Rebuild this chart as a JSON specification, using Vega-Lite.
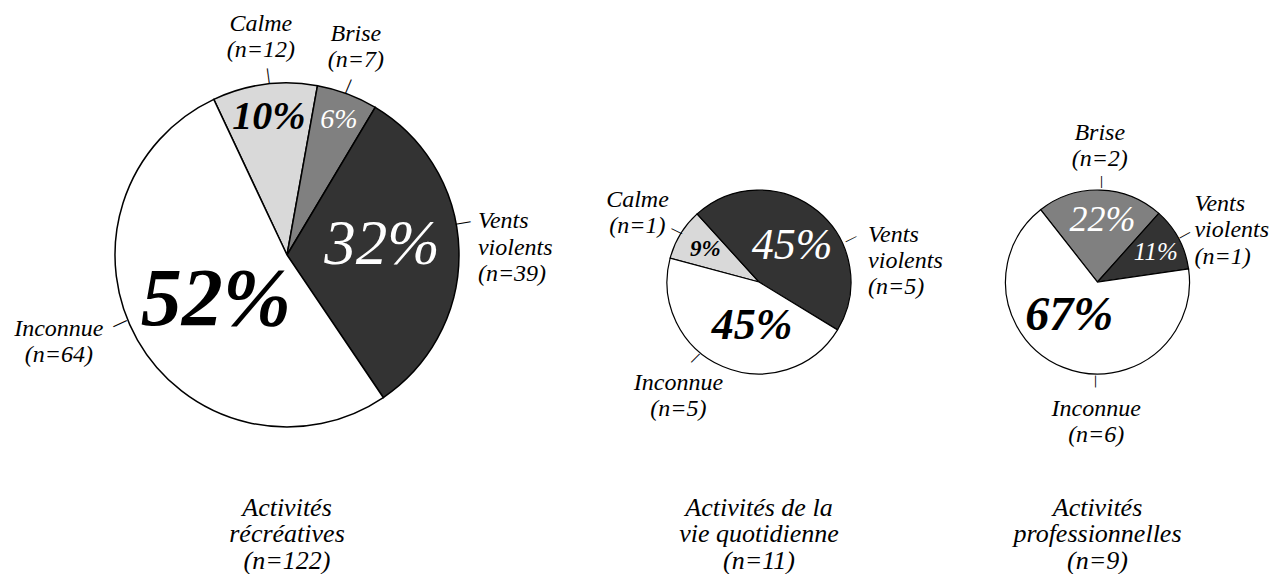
{
  "$schema": "https://vega.github.io/schema/vega-lite/v6.json",
  "padding": 0,
  "spacing": 0,
  "bounds": "flush",
  "background": "white",
  "config": {"view": {"stroke": null}, "font": "Liberation Serif"},
  "resolve": {"scale": {"theta": "independent", "color": "independent"}},
  "hconcat": [
    {
      "width": 574,
      "height": 510,
      "title": {"text": ["Activit\u00e9s", "r\u00e9cr\u00e9atives", "(n=122)"], "offset": -15.5, "font": "Liberation Serif", "fontStyle": "italic", "fontWeight": "normal", "fontSize": 26, "lineHeight": 26.5, "color": "black", "orient": "bottom", "frame": "group", "anchor": "middle", "baseline": "top"},
      "data": {"values": [
        {"cat": "Calme", "n": 12, "ord": 1, "pct": "10%", "label": "Calme\n(n=12)"},
        {"cat": "Brise", "n": 7, "ord": 2, "pct": "6%", "label": "Brise\n(n=7)"},
        {"cat": "Vents violents", "n": 39, "ord": 3, "pct": "32%", "label": "Vents\nviolents\n(n=39)"},
        {"cat": "Inconnue", "n": 64, "ord": 4, "pct": "52%", "label": "Inconnue\n(n=64)"}
      ]},
      "encoding": {
        "theta": {"field": "n", "type": "quantitative", "stack": true, "scale": {"range": [-0.4398, 5.8434]}},
        "order": {"field": "ord", "type": "quantitative"},
        "detail": {"field": "cat", "type": "nominal"}
      },
      "layer": [
        {"mark": {"type": "arc", "outerRadius": 172, "stroke": "black", "strokeWidth": 1.5},
         "encoding": {"color": {"field": "cat", "type": "nominal", "legend": null, "scale": {"domain": ["Calme", "Brise", "Vents violents", "Inconnue"], "range": ["#d9d9d9", "#808080", "#333333", "#ffffff"]}}}},
        {"mark": {"type": "text", "align": "center", "baseline": "middle", "font": "Liberation Serif", "fontStyle": "italic", "radius": 139, "fontSize": 40, "fontWeight": "bold", "color": "black"},
         "encoding": {"text": {"field": "pct"}, "opacity": {"condition": {"test": "datum.cat === 'Calme'", "value": 1}, "value": 0}}},
        {"mark": {"type": "text", "align": "center", "baseline": "middle", "font": "Liberation Serif", "fontStyle": "italic", "radius": 144, "fontSize": 28, "color": "white", "dx": 1.5},
         "encoding": {"text": {"field": "pct"}, "opacity": {"condition": {"test": "datum.cat === 'Brise'", "value": 1}, "value": 0}}},
        {"mark": {"type": "text", "align": "center", "baseline": "middle", "font": "Liberation Serif", "fontStyle": "italic", "radius": 95, "fontSize": 63, "color": "white", "dy": -7.5},
         "encoding": {"text": {"field": "pct"}, "opacity": {"condition": {"test": "datum.cat === 'Vents violents'", "value": 1}, "value": 0}}},
        {"mark": {"type": "text", "align": "center", "baseline": "middle", "font": "Liberation Serif", "fontStyle": "italic", "radius": 84, "fontSize": 82, "fontWeight": "bold", "color": "black", "dx": 2, "dy": 3.6},
         "encoding": {"text": {"field": "pct"}, "opacity": {"condition": {"test": "datum.cat === 'Inconnue'", "value": 1}, "value": 0}}},
        {"mark": {"type": "text", "align": "center", "baseline": "middle", "lineBreak": "\n", "color": "black", "font": "Liberation Serif", "fontStyle": "italic", "radius": 220, "fontSize": 24, "lineHeight": 26, "dx": 2.5, "dy": -13},
         "encoding": {"text": {"field": "label"}, "opacity": {"condition": {"test": "datum.cat === 'Calme'", "value": 1}, "value": 0}}},
        {"mark": {"type": "text", "align": "center", "baseline": "middle", "lineBreak": "\n", "color": "black", "font": "Liberation Serif", "fontStyle": "italic", "radius": 222, "fontSize": 24, "lineHeight": 26, "dx": -9, "dy": -13},
         "encoding": {"text": {"field": "label"}, "opacity": {"condition": {"test": "datum.cat === 'Brise'", "value": 1}, "value": 0}}},
        {"mark": {"type": "text", "align": "left", "baseline": "middle", "lineBreak": "\n", "color": "black", "font": "Liberation Serif", "fontStyle": "italic", "radius": 191, "fontSize": 24, "lineHeight": 26.5, "dy": -28.5},
         "encoding": {"text": {"field": "label"}, "opacity": {"condition": {"test": "datum.cat === 'Vents violents'", "value": 1}, "value": 0}}},
        {"mark": {"type": "text", "align": "center", "baseline": "middle", "lineBreak": "\n", "color": "black", "font": "Liberation Serif", "fontStyle": "italic", "radius": 190, "fontSize": 24, "lineHeight": 26, "dx": -63, "dy": -20},
         "encoding": {"text": {"field": "label"}, "opacity": {"condition": {"test": "datum.cat === 'Inconnue'", "value": 1}, "value": 0}}},
        {"mark": {"type": "text", "align": "center", "baseline": "middle", "color": "black", "radius": 180, "fontSize": 15, "font": "Liberation Sans", "fontStyle": "normal", "angle": -97.6, "dy": 3.5},
         "encoding": {"text": {"value": "\u2014"}, "opacity": {"condition": {"test": "datum.cat === 'Calme'", "value": 1}, "value": 0}}},
        {"mark": {"type": "text", "align": "center", "baseline": "middle", "color": "black", "radius": 179.4, "fontSize": 15, "font": "Liberation Sans", "fontStyle": "normal", "angle": -67.2, "dy": -2.9},
         "encoding": {"text": {"value": "\u2014"}, "opacity": {"condition": {"test": "datum.cat === 'Brise'", "value": 1}, "value": 0}}},
        {"mark": {"type": "text", "align": "center", "baseline": "middle", "color": "black", "radius": 177, "fontSize": 15, "font": "Liberation Sans", "fontStyle": "normal", "angle": -10, "dx": 4.1, "dy": -28.1},
         "encoding": {"text": {"value": "\u2014"}, "opacity": {"condition": {"test": "datum.cat === 'Vents violents'", "value": 1}, "value": 0}}},
        {"mark": {"type": "text", "align": "center", "baseline": "middle", "color": "black", "radius": 179, "fontSize": 15, "font": "Liberation Sans", "fontStyle": "normal", "angle": 154.8, "dx": 1.8, "dy": 21.6},
         "encoding": {"text": {"value": "\u2014"}, "opacity": {"condition": {"test": "datum.cat === 'Inconnue'", "value": 1}, "value": 0}}}
      ]
    },
    {
      "width": 370,
      "height": 564,
      "title": {"text": ["Activit\u00e9s de la", "vie quotidienne", "(n=11)"], "offset": -69.5, "font": "Liberation Serif", "fontStyle": "italic", "fontWeight": "normal", "fontSize": 26, "lineHeight": 26.5, "color": "black", "orient": "bottom", "frame": "group", "anchor": "middle", "baseline": "top"},
      "data": {"values": [
        {"cat": "Calme", "n": 1, "ord": 1, "pct": "9%", "label": "Calme\n(n=1)"},
        {"cat": "Vents violents", "n": 5, "ord": 3, "pct": "45%", "label": "Vents\nviolents\n(n=5)"},
        {"cat": "Inconnue", "n": 5, "ord": 4, "pct": "45%", "label": "Inconnue\n(n=5)"}
      ]},
      "encoding": {
        "theta": {"field": "n", "type": "quantitative", "stack": true, "scale": {"range": [-1.309, 4.9742]}},
        "order": {"field": "ord", "type": "quantitative"},
        "detail": {"field": "cat", "type": "nominal"}
      },
      "layer": [
        {"mark": {"type": "arc", "outerRadius": 92, "stroke": "black", "strokeWidth": 1.2},
         "encoding": {"color": {"field": "cat", "type": "nominal", "legend": null, "scale": {"domain": ["Calme", "Brise", "Vents violents", "Inconnue"], "range": ["#d9d9d9", "#808080", "#333333", "#ffffff"]}}}},
        {"mark": {"type": "text", "align": "center", "baseline": "middle", "font": "Liberation Serif", "fontStyle": "italic", "radius": 63, "fontSize": 23, "fontWeight": "bold", "color": "black"},
         "encoding": {"text": {"field": "pct"}, "opacity": {"condition": {"test": "datum.cat === 'Calme'", "value": 1}, "value": 0}}},
        {"mark": {"type": "text", "align": "center", "baseline": "middle", "font": "Liberation Serif", "fontStyle": "italic", "radius": 49, "fontSize": 44, "color": "white", "dx": 2, "dy": 2},
         "encoding": {"text": {"field": "pct"}, "opacity": {"condition": {"test": "datum.cat === 'Vents violents'", "value": 1}, "value": 0}}},
        {"mark": {"type": "text", "align": "center", "baseline": "middle", "font": "Liberation Serif", "fontStyle": "italic", "radius": 43, "fontSize": 44, "fontWeight": "bold", "color": "black", "dx": 10, "dy": 4},
         "encoding": {"text": {"field": "pct"}, "opacity": {"condition": {"test": "datum.cat === 'Inconnue'", "value": 1}, "value": 0}}},
        {"mark": {"type": "text", "align": "center", "baseline": "middle", "lineBreak": "\n", "color": "black", "font": "Liberation Serif", "fontStyle": "italic", "radius": 140, "fontSize": 24, "lineHeight": 26, "dx": -2, "dy": -9},
         "encoding": {"text": {"field": "label"}, "opacity": {"condition": {"test": "datum.cat === 'Calme'", "value": 1}, "value": 0}}},
        {"mark": {"type": "text", "align": "left", "baseline": "middle", "lineBreak": "\n", "color": "black", "font": "Liberation Serif", "fontStyle": "italic", "radius": 85, "fontSize": 24, "lineHeight": 26, "dx": 55, "dy": 19},
         "encoding": {"text": {"field": "label"}, "opacity": {"condition": {"test": "datum.cat === 'Vents violents'", "value": 1}, "value": 0}}},
        {"mark": {"type": "text", "align": "center", "baseline": "middle", "lineBreak": "\n", "color": "black", "font": "Liberation Serif", "fontStyle": "italic", "radius": 136, "fontSize": 24, "lineHeight": 26, "dx": -27, "dy": -24},
         "encoding": {"text": {"field": "label"}, "opacity": {"condition": {"test": "datum.cat === 'Inconnue'", "value": 1}, "value": 0}}},
        {"mark": {"type": "text", "align": "center", "baseline": "middle", "color": "black", "radius": 96.5, "fontSize": 12, "font": "Liberation Sans", "fontStyle": "normal", "angle": -153.4, "dy": -0.5},
         "encoding": {"text": {"value": "\u2014"}, "opacity": {"condition": {"test": "datum.cat === 'Calme'", "value": 1}, "value": 0}}},
        {"mark": {"type": "text", "align": "center", "baseline": "middle", "color": "black", "radius": 91.7, "fontSize": 12, "font": "Liberation Sans", "fontStyle": "normal", "angle": -26, "dx": 18, "dy": 38.9},
         "encoding": {"text": {"value": "\u2014"}, "opacity": {"condition": {"test": "datum.cat === 'Vents violents'", "value": 1}, "value": 0}}},
        {"mark": {"type": "text", "align": "center", "baseline": "middle", "color": "black", "radius": 95, "fontSize": 12, "font": "Liberation Sans", "fontStyle": "normal", "angle": 135, "dx": 10.5, "dy": 25.5},
         "encoding": {"text": {"value": "\u2014"}, "opacity": {"condition": {"test": "datum.cat === 'Inconnue'", "value": 1}, "value": 0}}}
      ]
    },
    {
      "width": 307,
      "height": 564,
      "title": {"text": ["Activit\u00e9s", "professionnelles", "(n=9)"], "offset": -69.5, "font": "Liberation Serif", "fontStyle": "italic", "fontWeight": "normal", "fontSize": 26, "lineHeight": 26.5, "color": "black", "orient": "bottom", "frame": "group", "anchor": "middle", "baseline": "top"},
      "data": {"values": [
        {"cat": "Brise", "n": 2, "ord": 2, "pct": "22%", "label": "Brise\n(n=2)"},
        {"cat": "Vents violents", "n": 1, "ord": 3, "pct": "11%", "label": "Vents\nviolents\n(n=1)"},
        {"cat": "Inconnue", "n": 6, "ord": 4, "pct": "67%", "label": "Inconnue\n(n=6)"}
      ]},
      "encoding": {
        "theta": {"field": "n", "type": "quantitative", "stack": true, "scale": {"range": [-0.6667, 5.6165]}},
        "order": {"field": "ord", "type": "quantitative"},
        "detail": {"field": "cat", "type": "nominal"}
      },
      "layer": [
        {"mark": {"type": "arc", "outerRadius": 92, "stroke": "black", "strokeWidth": 1.2},
         "encoding": {"color": {"field": "cat", "type": "nominal", "legend": null, "scale": {"domain": ["Calme", "Brise", "Vents violents", "Inconnue"], "range": ["#d9d9d9", "#808080", "#333333", "#ffffff"]}}}},
        {"mark": {"type": "text", "align": "center", "baseline": "middle", "font": "Liberation Serif", "fontStyle": "italic", "radius": 62, "fontSize": 36, "color": "white", "dx": 3},
         "encoding": {"text": {"field": "pct"}, "opacity": {"condition": {"test": "datum.cat === 'Brise'", "value": 1}, "value": 0}}},
        {"mark": {"type": "text", "align": "center", "baseline": "middle", "font": "Liberation Serif", "fontStyle": "italic", "radius": 65, "fontSize": 25, "color": "white", "dx": 1, "dy": 1},
         "encoding": {"text": {"field": "pct"}, "opacity": {"condition": {"test": "datum.cat === 'Vents violents'", "value": 1}, "value": 0}}},
        {"mark": {"type": "text", "align": "center", "baseline": "middle", "font": "Liberation Serif", "fontStyle": "italic", "radius": 42, "fontSize": 48, "fontWeight": "bold", "color": "black", "dx": -12.7, "dy": -5},
         "encoding": {"text": {"field": "pct"}, "opacity": {"condition": {"test": "datum.cat === 'Inconnue'", "value": 1}, "value": 0}}},
        {"mark": {"type": "text", "align": "center", "baseline": "middle", "lineBreak": "\n", "color": "black", "font": "Liberation Serif", "fontStyle": "italic", "radius": 136, "fontSize": 24, "lineHeight": 26, "dx": -2, "dy": -13},
         "encoding": {"text": {"field": "label"}, "opacity": {"condition": {"test": "datum.cat === 'Brise'", "value": 1}, "value": 0}}},
        {"mark": {"type": "text", "align": "left", "baseline": "middle", "lineBreak": "\n", "color": "black", "font": "Liberation Serif", "fontStyle": "italic", "radius": 110, "fontSize": 24, "lineHeight": 26.5, "dy": -26.5},
         "encoding": {"text": {"field": "label"}, "opacity": {"condition": {"test": "datum.cat === 'Vents violents'", "value": 1}, "value": 0}}},
        {"mark": {"type": "text", "align": "center", "baseline": "middle", "lineBreak": "\n", "color": "black", "font": "Liberation Serif", "fontStyle": "italic", "radius": 130, "fontSize": 24, "lineHeight": 26, "dx": 47, "dy": 6},
         "encoding": {"text": {"field": "label"}, "opacity": {"condition": {"test": "datum.cat === 'Inconnue'", "value": 1}, "value": 0}}},
        {"mark": {"type": "text", "align": "center", "baseline": "middle", "color": "black", "radius": 100, "fontSize": 12, "font": "Liberation Sans", "fontStyle": "normal", "angle": -90, "dy": 0.5},
         "encoding": {"text": {"value": "\u2014"}, "opacity": {"condition": {"test": "datum.cat === 'Brise'", "value": 1}, "value": 0}}},
        {"mark": {"type": "text", "align": "center", "baseline": "middle", "color": "black", "radius": 99, "fontSize": 12, "font": "Liberation Sans", "fontStyle": "normal", "angle": -29, "dy": -1},
         "encoding": {"text": {"value": "\u2014"}, "opacity": {"condition": {"test": "datum.cat === 'Vents violents'", "value": 1}, "value": 0}}},
        {"mark": {"type": "text", "align": "center", "baseline": "middle", "color": "black", "radius": 93, "fontSize": 12, "font": "Liberation Sans", "fontStyle": "normal", "angle": 90, "dx": 13.1, "dy": -33.5},
         "encoding": {"text": {"value": "\u2014"}, "opacity": {"condition": {"test": "datum.cat === 'Inconnue'", "value": 1}, "value": 0}}}
      ]
    }
  ]
}
